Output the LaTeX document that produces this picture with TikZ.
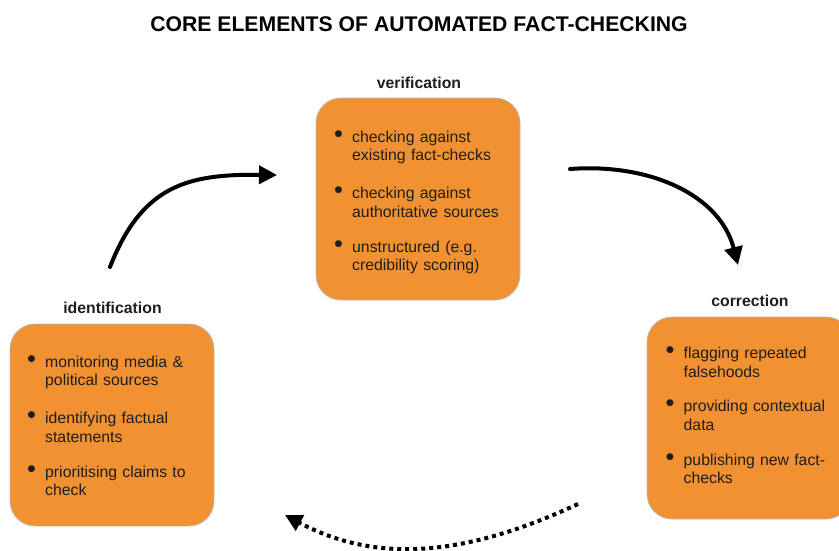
\documentclass[tikz,border=0pt]{standalone}
\usepackage{fontspec}
\usepackage{graphicx}
\setmainfont{Liberation Sans}
\usetikzlibrary{arrows.meta}
\definecolor{boxorange}{RGB}{241,145,49}
\definecolor{txt}{RGB}{30,30,30}
\newlength\hangw \setlength\hangw{18pt}
\newcommand\itm[2]{\makebox[\hangw][l]{\scalebox{1.6}{\textbullet}}\parbox[t]{185pt}{#1\\#2}}
\begin{document}
\begin{tikzpicture}[x=1pt,y=-1pt,
  box/.style={draw=gray!55, line width=0.8pt, fill=boxorange, rounded corners=25pt,
              minimum width=204pt, minimum height=202pt, inner sep=0pt},
  items/.style={text width=205pt, align=left, inner sep=0pt, anchor=north west,
                font=\fontsize{15.8}{18.5}\selectfont, text=txt},
  lbl/.style={font=\bfseries\fontsize{15.8}{18}\selectfont, inner sep=0pt, text=txt},
  arr/.style={line width=4pt, line cap=round, -{Triangle[length=18pt,width=18pt]}},
  dotarr/.style={line width=4pt, dash pattern=on 4pt off 4pt, -{Triangle[length=17pt,width=17pt]}}]
\clip (0,0) rectangle (839,550);
\node[font=\bfseries\fontsize{21.2}{24}\selectfont, inner sep=0pt] (title) at (419,24) {CORE ELEMENTS OF AUTOMATED FACT-CHECKING};
% boxes
\node[box] (verif) at (418,199) {};
\node[box] (ident) at (112,425) {};
\node[box] (corr) at (749,418) {};
% labels
\node[lbl] (verifl) at (419,82.5) {verification};
\node[lbl] (identl) at (112.5,308.3) {identification};
\node[lbl] (corrl) at (750,301) {correction};
% items
\node[items] (veriftxt) at (334,130) {\itm{checking against}{existing fact-checks}\\[22pt]\itm{checking against}{authoritative sources}\\[22pt]\itm{unstructured (e.g.}{credibility scoring)}};
\node[items] (identtxt) at (27,355) {\itm{monitoring media \&}{political sources}\\[22pt]\itm{identifying factual}{statements}\\[22pt]\itm{prioritising claims to}{check}};
\node[items] (corrtxt) at (665.5,346.5) {\itm{flagging repeated}{falsehoods}\\[22pt]\itm{providing contextual}{data}\\[22pt]\itm{publishing new fact-}{checks}};
% arrows
\coordinate (a1s) at (110,267);
\coordinate (a1e) at (277,175);
\coordinate (a2s) at (570,169);
\coordinate (a2e) at (738,265);
\coordinate (a3s) at (578,504);
\coordinate (a3e) at (285,515);
\draw[arr] (a1s) .. controls (142,185) and (188,174) .. (a1e);
\draw[arr] (a2s) .. controls (650,163) and (720,195) .. (a2e);
\draw[dotarr] (a3s) .. controls (460,559) and (373,562) .. (a3e);
\end{tikzpicture}
\end{document}
